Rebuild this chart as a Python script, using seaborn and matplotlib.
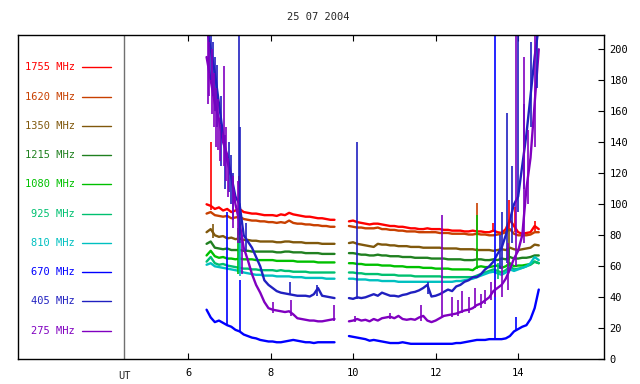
import numpy as np
import pandas as pd
import matplotlib.pyplot as plt
import seaborn as sns

title = "25 07 2004"
bands = ["1755 MHz", "1620 MHz", "1350 MHz", "1215 MHz", "1080 MHz",
         "925 MHz", "810 MHz", "670 MHz", "405 MHz", "275 MHz"]
colors = ["#ff0000", "#c84000", "#80580c", "#208020", "#00c000",
          "#00c070", "#00c0c0", "#0000ff", "#2020c0", "#8000c0"]

# UT hours, two recording segments with a gap between them
t_left = np.round(np.arange(6.45, 9.56, 0.1), 2)    # 32 samples
t_right = np.round(np.arange(9.9, 14.51, 0.1), 2)   # 47 samples

f1755_left = [100, 99, 97, 98, 96, 97, 95, 96, 97, 95, 94.5, 94, 94, 93.5, 93, 93, 93, 92.5, 93.5, 93,
              94.5, 93.5, 93, 92.5, 92, 92, 91.5, 91, 91, 90.5, 90, 90]
f1755_right = [89, 89.5, 88.5, 88, 87.5, 87, 87.5, 87.5, 87, 86.5, 86, 86, 85.5, 85.5, 85, 84.5, 84.5, 84, 84, 84.5,
               84, 84, 84, 83.5, 83.5, 83, 83, 83, 82.5, 82.5, 83, 82.5, 82.5, 82, 82, 83, 82, 81.5, 84, 90,
               86, 82, 81, 81.5, 82, 86, 84]
f1620_left = [94, 95, 93, 92.5, 92, 92.5, 91, 91.5, 92, 90.5, 90, 89.5, 89.5, 89, 89, 88.5, 88.5, 88, 88.5, 88,
              89.5, 88, 87.5, 87.5, 87, 87, 86.5, 86.5, 86, 86, 85.5, 85.5]
f1620_right = [86, 85.5, 85, 85, 84.5, 84.5, 84.5, 85, 84, 84, 83.5, 83.5, 83, 83, 82.5, 82.5, 82.5, 82, 82, 82,
               82, 82, 81.5, 81.5, 81.5, 81, 81, 81, 81, 80.5, 80.5, 81, 80.5, 80.5, 80, 80, 80.5, 81, 82, 84,
               81, 80, 80, 80, 80.5, 82, 82]
f1350_left = [82, 84, 80, 79, 79.5, 78, 78.5, 77.5, 78, 77, 77, 76.5, 76.5, 76, 76, 76, 76, 75.5, 75.5, 76,
              76, 75.5, 75.5, 75.5, 75, 75, 75, 75, 74.5, 74.5, 74.5, 74.5]
f1350_right = [75, 75.5, 74.5, 74, 73.5, 73, 72.5, 74.5, 74, 74, 73.5, 73.5, 73, 73, 73, 72.5, 72.5, 72.5, 72, 72,
               72, 72, 72, 71.5, 71.5, 71.5, 71.5, 71, 71, 71, 71, 70.5, 70.5, 70.5, 70.5, 70, 70.5, 71, 70.5, 72,
               71, 70.5, 71, 71.5, 72, 74, 73.5]
f1215_left = [74.5, 76, 72, 71.5, 71, 71.5, 70.5, 70.5, 70.5, 70, 70, 69.5, 69.5, 69.5, 69.5, 69.5, 69.5, 69, 69, 69.5,
              69.5, 69, 69, 69, 68.5, 68.5, 68.5, 68.5, 68, 68, 68, 68]
f1215_right = [68.5, 68.5, 68, 67.5, 67.5, 67, 67, 67.5, 67, 67, 66.5, 66.5, 66.5, 66, 66, 66, 65.5, 65.5, 65.5, 65.5,
               65, 65, 65, 65, 64.5, 64.5, 64.5, 64.5, 64, 64, 64, 64.5, 64.5, 64, 64, 64.5, 64, 65, 64.5, 66,
               65, 65, 65.5, 65.5, 66, 67, 67]
f1080_left = [67, 70, 66.5, 65.5, 66, 65, 65, 64.5, 65, 64.5, 64.5, 64.5, 64, 64, 64, 64, 64, 63.5, 63.5, 63.5,
              63.5, 63.5, 63, 63, 63, 63, 63, 62.5, 62.5, 62.5, 62.5, 62.5]
f1080_right = [62, 62, 61.5, 61.5, 61, 61, 61, 61, 60.5, 60.5, 60.5, 60, 60, 60, 59.5, 59.5, 59.5, 59.5, 59, 59,
               59, 58.5, 58.5, 58.5, 58.5, 58, 58, 58, 58, 58, 57.5, 59.5, 60, 59.5, 59.5, 60, 60.5, 59, 60, 62,
               60, 60.5, 60.5, 61, 61.5, 63, 62]
f925_left = [63, 66, 62, 61, 61.5, 60.5, 60, 59.5, 59, 58.5, 58.5, 58, 58, 57.5, 57.5, 57.5, 57.5, 57, 57.5, 57,
             57, 56.5, 56.5, 56.5, 56.5, 56, 56, 56, 56, 56, 56, 56]
f925_right = [56, 56, 55.5, 55.5, 55, 55, 55, 55, 54.5, 54.5, 54.5, 54.5, 54, 54, 54, 54, 53.5, 53.5, 53.5, 53.5,
              53.5, 53.5, 53.5, 53, 53, 53, 53, 53, 53, 53, 53, 54, 55, 56, 57, 58, 57, 56, 57.5, 60,
              58, 58.5, 59, 60, 61, 63, 62]
f810_left = [61, 62, 60, 59.5, 59, 58.5, 58, 57.5, 57, 56, 55.5, 55, 54.5, 54.5, 54, 54, 54, 53.5, 53.5, 53.5,
             53.5, 53, 53, 53, 52.5, 52.5, 52.5, 52.5, 52.5, 52, 52, 52]
f810_right = [52, 52, 51.5, 51.5, 51.5, 51, 51, 51, 50.5, 50.5, 50.5, 50.5, 50, 50, 50, 50, 50, 50, 50, 50,
              50, 50, 50, 50, 50, 50, 50.5, 50.5, 51, 51.5, 52, 53, 54, 55, 56, 56.5, 55.5, 54.5, 56, 58,
              57, 58, 59, 60, 62, 66, 64]
f670_left = [32, 27, 24, 25, 23.5, 22, 21, 19, 18, 16, 15, 14, 13.5, 12.5, 12, 11.5, 11.5, 11, 11, 11.5,
             12, 12.5, 12, 11.5, 11, 11, 10.5, 11, 11, 11, 11, 11]
f670_right = [15, 14.5, 14, 13.5, 13, 12, 12.5, 12, 11.5, 11, 10.5, 10.5, 10.5, 11, 10.5, 10, 10, 10, 10, 10,
              10, 10, 10, 10, 10, 10, 10.5, 10.5, 11, 11.5, 12, 12.5, 12.5, 12.5, 13, 13, 13, 13, 13.5, 15,
              18, 19.5, 21, 22, 26, 33, 45]
f405_left = [215, 200, 185, 165, 145, 128, 118, 105, 100, 80, 76, 72, 66, 60, 51, 48, 46, 44, 43, 42.5,
             42, 41.5, 41, 41, 41, 40.5, 42, 46, 41, 40.5, 40, 39.5]
f405_right = [39.5, 39, 40, 39.5, 40, 41, 42, 41, 43, 42, 41, 41, 40.5, 41.5, 42, 43, 43.5, 44.5, 46, 48,
              40.5, 41, 42, 43.5, 45, 44, 47, 48, 50, 51, 53, 53, 55, 58, 60, 63, 68, 72, 80, 90,
              100, 105, 125, 145, 170, 195, 215]
f275_left = [195, 180, 165, 155, 140, 132, 118, 100, 88, 72, 64, 55, 48, 43, 37, 33, 32, 31.5, 31, 30.5,
             31, 29, 26.5, 26, 25.5, 25, 25, 24.5, 24.5, 25, 25.5, 26]
f275_right = [24.5, 25, 26, 25, 25.5, 24.5, 26, 25, 26.5, 27, 27.5, 26.5, 28, 26, 25.5, 26, 25.5, 27, 28, 25,
              24, 25, 26.5, 28, 28.5, 29, 29.5, 30.5, 31.5, 32, 33, 35, 36, 38, 40, 44, 46, 48, 52, 58,
              65, 70, 80, 110, 130, 165, 200]

left_series = [f1755_left, f1620_left, f1350_left, f1215_left, f1080_left,
               f925_left, f810_left, f670_left, f405_left, f275_left]
right_series = [f1755_right, f1620_right, f1350_right, f1215_right, f1080_right,
                f925_right, f810_right, f670_right, f405_right, f275_right]

# short bursts / spikes: band, time, low, high
spike_band = (["1755 MHz"] * 6 + ["1620 MHz"] * 2 + ["1350 MHz"] * 4 + ["1215 MHz"] * 2 + ["1080 MHz"] * 2
              + ["925 MHz"] * 2 + ["810 MHz"] + ["670 MHz"] * 4 + ["405 MHz"] * 25 + ["275 MHz"] * 35)
spike_t = [6.56, 7.24, 13.4, 13.78, 13.92, 14.42,
           7.24, 13.0,
           6.6, 7.24, 13.0, 13.78,
           7.24, 13.78,
           7.22, 13.0,
           7.24, 13.5,
           7.26,
           6.95, 7.25, 13.44, 13.95,
           6.5, 6.55, 6.6, 6.65, 6.7, 6.8, 6.9, 7.0, 7.05, 7.1, 7.24, 7.27, 7.4, 8.47, 9.12, 10.1, 11.82,
           13.55, 13.62, 13.73, 13.85, 14.0, 14.15, 14.3, 14.45,
           6.48, 6.52, 6.58, 6.63, 6.68, 6.73, 6.78, 6.88, 6.93, 6.98, 7.1, 7.2, 7.3, 8.05, 8.5, 9.55,
           10.05, 10.9, 11.65, 12.15, 12.4, 12.55, 12.65, 12.8, 12.95, 13.1, 13.2, 13.35, 13.45, 13.6,
           13.75, 13.95, 14.15, 14.25, 14.4]
spike_lo = [96, 95, 82, 84, 82, 83,
            90, 80,
            78, 76, 64, 64,
            66, 60,
            55, 58,
            56, 52,
            54,
            22, 18, 13, 18,
            185, 180, 170, 160, 150, 125, 110, 108, 100, 90, 80, 75, 70, 42, 41, 39, 42,
            58, 60, 62, 75, 95, 110, 150, 175,
            165, 170, 158, 150, 137, 135, 128, 125, 115, 105, 85, 75, 55, 30, 28, 25,
            24, 26, 25, 27, 27, 28, 30, 30, 33, 33, 36, 38, 40, 40,
            45, 60, 75, 100, 137]
spike_hi = [140, 118, 88, 103, 98, 89,
            100, 101,
            87, 90, 72, 84,
            82, 72,
            85, 93,
            110, 62,
            75,
            95, 51, 215, 27,
            215, 210, 205, 195, 190, 170, 145, 140, 132, 120, 215, 150, 88, 50, 48, 140, 50,
            80, 95, 159, 125, 215, 165, 205, 215,
            215, 205, 200, 185, 175, 168, 152, 189, 150, 130, 118, 115, 80, 37, 38, 35,
            28, 30, 35, 93, 40, 38, 44, 40, 46, 42, 45, 50, 51, 60,
            75, 215, 195, 148, 215]

rows = []
for band, lv, rv in zip(bands, left_series, right_series):
    for t, v in zip(t_left, lv):
        rows.append((band, 0, t, v))
    for t, v in zip(t_right, rv):
        rows.append((band, 1, t, v))
df = pd.DataFrame(rows, columns=["band", "seg", "ut", "flux"])
palette = dict(zip(bands, colors))

sns.set_style("white")
plt.rcParams["font.family"] = ["DejaVu Sans Mono"]
plt.rcParams["font.size"] = 7.5

fig = plt.figure(figsize=(6.4, 3.84), dpi=100)
ax = fig.add_axes([0.0281, 0.0643, 0.9156, 0.8437])

sns.lineplot(data=df, x="ut", y="flux", hue="band", hue_order=bands, units="seg",
             estimator=None, sort=False, palette=palette, legend=False, lw=1.7, ax=ax)
ax.vlines(spike_t, spike_lo, spike_hi, colors=[palette[b] for b in spike_band], lw=1.2)

ax.axvline(4.46, color="#707070", lw=1)

ax.set_xlim(1.88, 16.08)
ax.set_ylim(0, 209)
ax.set_xticks([6, 8, 10, 12, 14])
ax.set_yticks(range(0, 201, 20))
ax.yaxis.tick_right()
ax.tick_params(axis="x", direction="in", top=True, bottom=True, length=4, width=0.8,
               pad=6, labelsize=7.5, colors="black")
ax.tick_params(axis="y", direction="in", right=True, left=False, length=4, width=0.8,
               pad=4, labelsize=7.5, colors="black")
ax.set_xlabel("")
ax.set_ylabel("")
for s in ax.spines.values():
    s.set_visible(True)
    s.set_color("black")
    s.set_linewidth(1)

ax.text(4.46, -0.035, "UT", transform=ax.get_xaxis_transform(), ha="center", va="top", fontsize=7.5)

# band labels on the left
for i, (band, c) in enumerate(zip(bands, colors)):
    yy = 0.901 - i * 0.0903
    ax.text(0.0973, yy, band, transform=ax.transAxes, color=c, ha="right", va="center", fontsize=7.5)
    ax.plot([0.109, 0.159], [yy, yy], transform=ax.transAxes, color=c, lw=1)

fig.text(0.497, 0.956, title, ha="center", va="center", fontsize=7.5)

fig.savefig("out.png", dpi=100)
